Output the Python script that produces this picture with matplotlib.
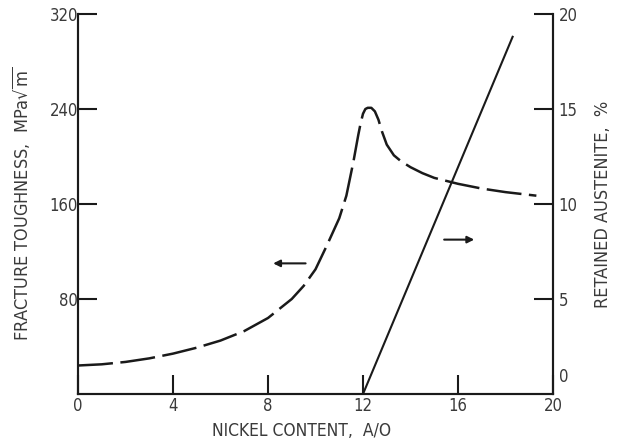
import matplotlib
matplotlib.use('Agg')
import matplotlib.pyplot as plt

plt.rcParams['font.family'] = ['DejaVu Sans']
plt.rcParams['font.stretch'] = 'condensed'

# fracture toughness curve (left axis, MPa sqrt(m))
nickel_kic = [0, 1, 2, 3, 4, 5, 6, 7, 8, 9, 9.5, 10, 10.5, 11, 11.3, 11.6, 11.8,
              11.9, 12.0, 12.1, 12.2, 12.35, 12.5, 12.65, 12.8, 13.0, 13.3, 13.6,
              14, 14.5, 15, 16, 17, 18, 19.3]
toughness = [24, 25, 27, 30, 34, 39, 45, 53, 64, 80, 91, 105, 126, 148, 167, 196,
             218, 228, 236, 240, 241, 241, 238, 231, 221, 210, 201, 196, 191,
             186, 182, 177, 173, 170, 167]

# retained austenite (right axis, %)
nickel_aus = [12.0, 18.3]
austenite = [0.0, 18.8]

x_ticks = [0, 4, 8, 12, 16, 20]
left_ticks = [80, 160, 240, 320]
right_ticks = [5, 10, 15, 20]

ink = '#1a1a1a'
txt = '#3a3a3a'

fig = plt.figure(figsize=(6.18, 4.47), dpi=100)
ax = fig.add_axes([78 / 618, 53 / 447, 475 / 618, 380 / 447])
ax2 = ax.twinx()

ax.plot(nickel_kic, toughness, color=ink, lw=1.8, dashes=(14, 3),
        solid_capstyle='butt', dash_capstyle='butt')
ax2.plot(nickel_aus, austenite, color=ink, lw=1.5)

ax.set_xlim(0, 20)
ax.set_ylim(0, 320)
ax2.set_ylim(0, 20)

for a in (ax, ax2):
    a.spines['top'].set_visible(False)
    for s in a.spines.values():
        s.set_linewidth(1.5)
        s.set_color(ink)

ax.set_xticks(x_ticks)
ax.set_xticklabels([str(v) for v in x_ticks])
ax.set_yticks(left_ticks)
ax.set_yticklabels([str(v) for v in left_ticks])
ax.tick_params(axis='both', direction='in', length=14, width=1.5, color=ink,
               labelsize=12, labelcolor=txt, pad=2)
ax.tick_params(axis='y', pad=0)

ax2.set_yticks(right_ticks)
ax2.set_yticklabels([str(v) for v in right_ticks])
ax2.tick_params(axis='y', direction='in', length=14, width=1.5, color=ink,
                labelsize=12, labelcolor=txt, pad=4)
ax2.text(20.25, 0.9, '0', fontsize=12, color=txt, ha='left', va='center')

ax.set_xlabel('NICKEL CONTENT,  A/O', fontsize=12.5, color=txt, labelpad=4)
ax.xaxis.set_label_coords(0.47, -0.075)
ax.set_ylabel(r'FRACTURE TOUGHNESS,  MPa$\sqrt{\mathrm{m}}$', fontsize=13,
              color=txt, labelpad=12)
ax2.set_ylabel('RETAINED AUSTENITE,  %', fontsize=13, color=txt, labelpad=12)

# arrows showing which axis each curve belongs to
ax.annotate('', xy=(8.1, 110), xytext=(9.7, 110),
            arrowprops=dict(arrowstyle='-|>', color=ink, lw=1.5, mutation_scale=10))
ax.annotate('', xy=(16.8, 130), xytext=(15.3, 130),
            arrowprops=dict(arrowstyle='-|>', color=ink, lw=1.5, mutation_scale=10))

fig.savefig('out.png', dpi=100)
